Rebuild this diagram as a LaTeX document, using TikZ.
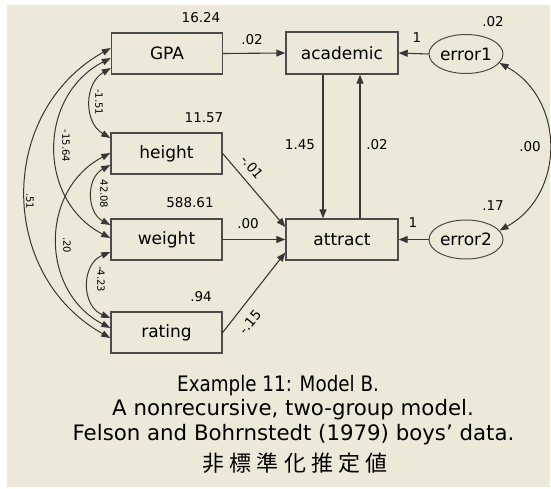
\documentclass[tikz,border=0pt]{standalone}
\usepackage{fontspec}
\setmainfont{DejaVu Sans}
\newfontfamily\cjkfont[LetterSpace=24]{Noto Sans CJK JP}
\newfontfamily\condfont[FakeStretch=0.86]{DejaVu Sans}
\usetikzlibrary{arrows.meta,shapes.geometric,calc}
\definecolor{bg}{RGB}{236,233,216}
\definecolor{ln}{RGB}{55,55,55}
\definecolor{bx}{RGB}{75,75,75}
\tikzset{
  var/.style={draw=bx, line width=1.4pt, fill=bg, minimum width=111pt, minimum height=41pt,
    inner sep=0pt, font=\fontsize{17}{17}\selectfont},
  err/.style={ellipse, draw=bx, line width=1pt, fill=bg, minimum width=74pt, minimum height=39pt,
    inner sep=0pt, font=\fontsize{17}{17}\selectfont},
  num/.style={font=\fontsize{13.5}{13.5}\selectfont, inner sep=0pt},
  sm/.style={font=\fontsize{10}{10}\selectfont, inner sep=0pt, rotate=-90},
  reg/.style={draw=ln, line width=1.1pt, -{Triangle[length=9pt,width=7pt]}},
  cov/.style={draw=ln, line width=1pt, {Triangle[length=9pt,width=6.5pt]}-{Triangle[length=9pt,width=6.5pt]}},
  captext/.style={font=\fontsize{21.3}{21.3}\selectfont, inner sep=0pt, anchor=base},
}
\begin{document}
\begin{tikzpicture}[x=1pt,y=-1pt]
\useasboundingbox (0,0) rectangle (551,489);
\fill[white] (0,0) rectangle (551,489);
\fill[bg] (7,5) rectangle (550,487);

% nodes
\node[var] (GPA) at (167,53.5) {GPA};
\node[var] (height) at (166.5,153.5) {height};
\node[var] (weight) at (166.5,239.5) {weight};
\node[var] (rating) at (166.5,332.5) {rating};
\node[var, minimum width=112pt, minimum height=42pt] (academic) at (342,53) {academic};
\node[var, minimum width=112pt] (attract) at (342,239.5) {attract};
\node[err] (error1) at (466,54) {error1};
\node[err] (error2) at (466,239.5) {error2};

% regressions
\draw[reg] (GPA.east) -- (academic.west);
\draw[reg] (error1.west) -- (academic.east);
\draw[reg] (error2.west) -- (attract.east);
\draw[reg] (weight.east) -- (attract.west);
\draw[reg] (height.east) -- ([yshift=12.5pt]attract.west);
\draw[reg] (rating.east) -- ([yshift=-13pt]attract.west);
\draw[reg] ([xshift=-19pt]academic.south) -- ([xshift=-19pt]attract.north);
\draw[reg] ([xshift=18pt]attract.north) -- ([xshift=18pt]academic.south);

% covariance anchor points
\coordinate (g1) at ([yshift=5.5pt]GPA.west);
\coordinate (g2) at ([yshift=-4.5pt]GPA.west);
\coordinate (g3) at ([yshift=-14.5pt]GPA.west);
\coordinate (h1) at ([yshift=15.5pt]height.west);
\coordinate (h2) at ([yshift=0.5pt]height.west);
\coordinate (h3) at ([yshift=-11.5pt]height.west);
\coordinate (w1) at ([yshift=14.5pt]weight.west);
\coordinate (w2) at ([yshift=1.5pt]weight.west);
\coordinate (w3) at ([yshift=-12.5pt]weight.west);
\coordinate (r1) at ([yshift=14.5pt]rating.west);
\coordinate (r2) at ([yshift=4.5pt]rating.west);
\coordinate (r3) at ([yshift=-5.5pt]rating.west);

\draw[cov] (g3) .. controls +(-26.7,15.7) and +(-26.7,-15.7) .. (h1);
\draw[cov] (h3) .. controls +(-24,12.8) and +(-24,-12.8) .. (w1);
\draw[cov] (w3) .. controls +(-29.3,12.2) and +(-29.3,-12.2) .. (r1);
\draw[cov] (g2) .. controls +(-73.3,37.6) and +(-73.3,-37.6) .. (w2);
\draw[cov] (h2) .. controls +(-70.7,36.9) and +(-70.7,-36.9) .. (r2);
\draw[cov] (g1) .. controls +(-113.3,63.5) and +(-113.3,-63.5) .. (r3);
\draw[cov] (error1.-15) .. controls +(65.9,36.3) and +(65.9,-36.3) .. (error2.15);

% variance labels
\node[num] (vGPA) at (201,17.5) {16.24};
\node[num] (vheight) at (204,117.5) {11.57};
\node[num] (vweight) at (190,203) {588.61};
\node[num] (vrating) at (201,297) {.94};
\node[num] (ve1) at (493,22) {.02};
\node[num] (ve2) at (493,206) {.17};

% path labels
\node[num] (pGA) at (252,40) {.02};
\node[num] (pE1) at (417,38) {1};
\node[num] (pE2) at (413,223) {1};
\node[num] (pAA) at (300,145) {1.45};
\node[num] (pTA) at (377,145) {.02};
\node[num] (pEE) at (530,147) {.00};
\node[num] (pW) at (248,224) {.00};
\node[num, rotate=-50] (pH) at (252,167) {-.01};
\node[num, rotate=50] (pR) at (250,322) {-.15};

% covariance labels
\node[sm] (c1) at (99,102) {-1.51};
\node[sm] (c2) at (66,146) {-15.64};
\node[sm] (c3) at (30,201) {.51};
\node[sm] (c4) at (104,194) {42.08};
\node[sm] (c5) at (67,245) {.20};
\node[sm] (c6) at (101,279) {-4.23};

% caption
\node[captext, anchor=base west, font=\condfont\fontsize{21.3}{21.3}\selectfont] (t1) at (177,391) {Example 11: Model B.};
\node[captext] (t2) at (293,415) {A nonrecursive, two-group model.};
\node[captext] (t3) at (293.5,440) {Felson and Bohrnstedt (1979) boys’ data.};
\node[inner sep=0pt, anchor=base west, font=\cjkfont\fontsize{22}{22}\selectfont] (t4) at (202,471) {非標準化推定値};
\end{tikzpicture}
\end{document}
